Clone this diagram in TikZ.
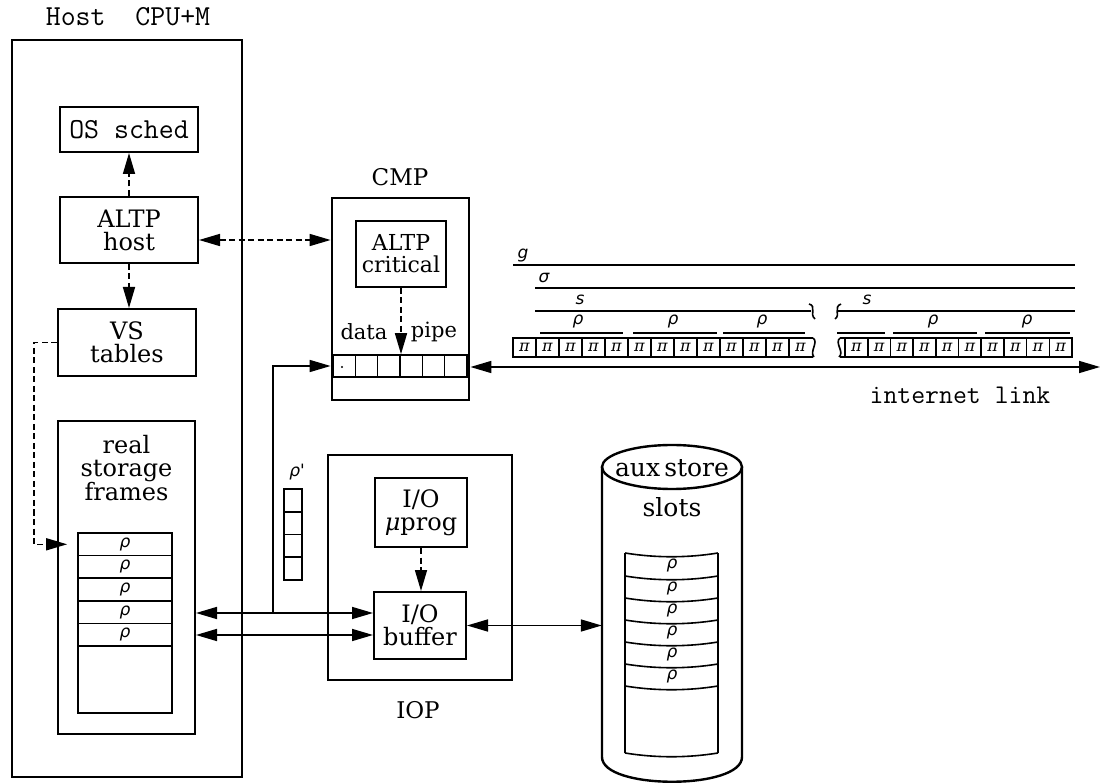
\documentclass[tikz,border=0pt]{standalone}
\usepackage{fontspec}
\setmainfont{DejaVu Serif}
\newfontfamily\lblfont{DejaVu Sans}
\usetikzlibrary{arrows.meta}
\begin{document}
\begin{tikzpicture}[x=1pt,y=-1pt,
  box/.style={draw, line width=2pt, inner sep=0pt, align=center, font=\fontsize{24}{23}\selectfont},
  outerbox/.style={draw, line width=2.8pt, inner sep=0pt},
  conn/.style={line width=1.6pt},
  tip/.style={-{Triangle[length=21pt,width=12pt]}},
  dtip/.style={{Triangle[length=21pt,width=12pt]}-{Triangle[length=21pt,width=12pt]}},
  dline/.style={line width=1.6pt, dash pattern=on 6pt off 3.5pt},
  cellline/.style={line width=1.6pt},
  cell/.style={draw, line width=1.7pt, inner sep=0pt, minimum width=94pt, minimum height=22.6pt, font=\lblfont\itshape\fontsize{17}{17}\selectfont},
  pcell/.style={draw, line width=1.6pt, inner sep=0pt, minimum width=22.33pt, minimum height=22pt},
  scell/.style={draw, line width=1.7pt, inner sep=0pt, minimum width=18pt, minimum height=22.75pt},
  small/.style={font=\lblfont\itshape\fontsize{17}{17}\selectfont, inner sep=0pt},
  pitext/.style={font=\itshape\fontsize{16}{16}\selectfont, inner sep=0pt},
  ttlbl/.style={font=\ttfamily\fontsize{29}{29}\selectfont, inner sep=0pt},
  lbl/.style={font=\fontsize{23}{23}\selectfont, inner sep=0pt, align=center},
]
\useasboundingbox (0,0) rectangle (1101,783);

% ---------------- Host CPU+M ----------------
\node[outerbox, minimum width=230pt, minimum height=737pt] (host) at (127,408.5) {};
\node[ttlbl] (hostlbl) at (128,17) {Host~~CPU+M};
\node[box, minimum width=138pt, minimum height=45pt, font=\ttfamily\fontsize{29}{29}\selectfont] (os) at (129,129.5) {OS sched};
\node[box, minimum width=138pt, minimum height=66pt] (ah) at (129,230) {ALTP\\host};
\node[box, minimum width=138pt, minimum height=67pt] (vs) at (127,342.5) {VS\\tables};
\node[box, minimum width=137pt, minimum height=313pt] (rs) at (126.5,577.5) {};
\node[lbl, font=\fontsize{24}{23}\selectfont] (rslbl) at (126.5,468) {real\\storage\\frames};
\foreach \i in {0,...,4} {
  \node[cell] (f\i) at (125,{544.3+22.6*\i}) {ρ};
}
\node[cell, minimum height=66.5pt] (fe) at (125,679.75) {};

\draw[dline, tip] (ah.north) -- (os.south);
\draw[dline, tip] (ah.south) -- (ah.south |- vs.north);
\draw[dline, tip] (vs.west) -- ++(-23,0) |- ([xshift=-10pt]f0.west);

% ---------------- CMP ----------------
\node[outerbox, minimum width=137pt, minimum height=202pt] (cmp) at (400.5,299) {};
\node[lbl] (cmplbl) at (400,177) {CMP};
\node[box, minimum width=90pt, minimum height=66pt, font=\fontsize{22}{22}\selectfont] (ac) at (401,254) {ALTP\\critical};
\node[lbl, font=\fontsize{21}{21}\selectfont] (datalbl) at (364,332) {data};
\node[lbl, font=\fontsize{21}{21}\selectfont] (pipelbl) at (434,332) {pipe};
\foreach \i in {0,...,5} {
  \node[pcell] (pc\i) at ({344.17+22.33*\i},366) {};
}
\fill (342,367) circle (1.2pt);
\draw[dline, tip] (ac.south) -- (ac.south |- pc3.north);
\draw[dline, dtip] ([yshift=-10pt]ah.east) -- ([yshift=-10pt]ah.east -| cmp.west);

% ---------------- IOP ----------------
\node[outerbox, minimum width=184pt, minimum height=225pt] (iop) at (420,567.5) {};
\node[lbl] (ioplbl) at (418,710) {IOP};
\node[box, minimum width=92pt, minimum height=69pt] (mp) at (421,512.5) {I/O\\\textit{μ}prog};
\node[box, minimum width=92pt, minimum height=67pt] (buf) at (420,625.5) {I/O\\buffer};
\draw[dline, tip] (mp.south) -- (mp.south |- buf.north);

% small rho' stack
\node[small] (rplbl) at (297,472) {ρ'};
\foreach \i in {0,...,3} {
  \node[scell] (sc\i) at (293,{500.4+22.75*\i}) {};
}

% ---------------- aux store cylinder ----------------
\node[minimum width=140pt, minimum height=315pt, inner sep=0pt] (aux) at (672,624) {};
\draw[line width=2.4pt] (602,467) -- (602,757) .. controls (602,790) and (742,790) .. (742,757) -- (742,467);
\draw[line width=2.4pt] (672,467) ellipse [x radius=70, y radius=22];
\node[lbl, font=\fontsize{25}{25}\selectfont] (auxlbl) at (672,468) {aux\,store};
\node[lbl, font=\fontsize{25}{25}\selectfont] (slotslbl) at (672,507) {slots};
\draw[cellline] (625,553) -- (625,753);
\draw[cellline] (718,553) -- (718,753);
\foreach \y in {553,576,598,620,642,664,686,753} {
  \draw[cellline] (625,\y) .. controls (656,\y+5) and (687,\y+5) .. (718,\y);
}
\foreach \y [count=\k] in {553,576,598,620,642,664} {
  \node[small] (sl\k) at (672,\y+13) {ρ};
}

% ---------------- connectors ----------------
\coordinate (j1) at (273,613);
\coordinate (j2) at (273,635);
\draw[conn, dtip] (rs.east |- j1) -- (j1 -| buf.west);
\draw[conn, dtip] (rs.east |- j2) -- (j2 -| buf.west);
\draw[conn, tip] (j1) |- (cmp.west |- pc0.west);
\draw[conn, dtip] (buf.east) -- (buf.east -| aux.west);
\coordinate (ilend) at (1100,367);
\draw[conn, dtip] (cmp.east |- ilend) -- (ilend);
\node[ttlbl, font=\ttfamily\fontsize{27}{27}\selectfont] (illbl) at (960,395) {internet link};

% ---------------- link timing lines ----------------
\draw[cellline] (513,265) -- (1075,265);
\node[small] (glbl) at (523,256) {g};
\draw[cellline] (535,288) -- (1075,288);
\node[small] (siglbl) at (544,278) {σ};
\draw[cellline] (535,311) -- (811,311);
\draw[cellline] (809,304) .. controls (817,306) and (809,314) .. (815,319);
\draw[cellline] (841,304) .. controls (833,307) and (841,315) .. (835,319);
\draw[cellline] (838,311) -- (1075,311);
\node[small] (slbl1) at (580,300) {s};
\node[small] (slbl2) at (867,300) {s};
\foreach \a/\b in {540/623,633/717,723/805,837/885,893/977,985/1070} {
  \draw[cellline] (\a,333) -- (\b,333);
}
\foreach \x [count=\k] in {578,673,762,933,1027} {
  \node[small] (plbl\k) at (\x,322) {ρ};
}

% pi cells, left group
\draw[cellline] (813,338) -- (513,338) -- (513,357) -- (813,357);
\draw[cellline] (813,338) .. controls (819,342) and (809,352) .. (814,357);
\foreach \i in {1,...,12} {
  \draw[cellline] ({513+23*\i},338) -- ({513+23*\i},357);
}
\foreach \i in {0,...,12} {
  \node[pitext] (pil\i) at ({524.5+23*\i},347.5) {π};
}
% pi cells, right group
\draw[cellline] (840,338) -- (1072,338) -- (1072,357) -- (840,357);
\draw[cellline] (840,338) .. controls (834,343) and (845,352) .. (839,357);
\foreach \i in {0,...,9} {
  \draw[cellline] ({845+22.7*\i},338) -- ({845+22.7*\i},357);
  \node[pitext] (pir\i) at ({856.35+22.7*\i},347.5) {π};
}
\end{tikzpicture}
\end{document}
